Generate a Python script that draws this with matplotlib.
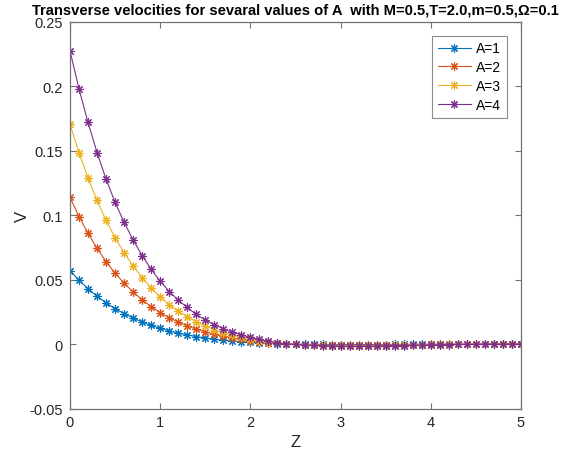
import numpy as np
import matplotlib
matplotlib.use("Agg")
import matplotlib.pyplot as plt

plt.rcParams['font.family'] = ['Liberation Sans', 'DejaVu Sans']

z = np.linspace(0, 5, 51)

v_a1 = [0.0569, 0.0495, 0.0430, 0.0372, 0.0320, 0.0275, 0.0236, 0.0202, 0.0172, 0.0145,
        0.0122, 0.0102, 0.0085, 0.0071, 0.0058, 0.0047, 0.0038, 0.0030, 0.0023, 0.0018,
        0.0013, 0.0009, 0.0006, 0.0003, 0.0001, -0.0001, -0.0002, -0.0003, -0.0003, -0.0004,
        -0.0004, -0.0004, -0.0004, -0.0004, -0.0004, -0.0004, -0.0003, -0.0003, -0.0002, -0.0002,
        -0.0002, -0.0001, -0.0001, -0.0001, -0.0001, 0.0000, 0.0000, 0.0000, 0.0000, 0.0000,
        0.0000]
v_a2 = [0.1138, 0.0990, 0.0860, 0.0743, 0.0640, 0.0550, 0.0473, 0.0404, 0.0344, 0.0291,
        0.0244, 0.0204, 0.0171, 0.0142, 0.0115, 0.0094, 0.0075, 0.0060, 0.0047, 0.0036,
        0.0026, 0.0018, 0.0011, 0.0006, 0.0002, -0.0002, -0.0004, -0.0005, -0.0007, -0.0008,
        -0.0008, -0.0009, -0.0009, -0.0008, -0.0008, -0.0007, -0.0006, -0.0006, -0.0005, -0.0004,
        -0.0003, -0.0003, -0.0002, -0.0002, -0.0001, -0.0001, -0.0001, -0.0001, 0.0000, 0.0000,
        0.0000]
v_a3 = [0.1707, 0.1485, 0.1290, 0.1115, 0.0960, 0.0825, 0.0709, 0.0606, 0.0515, 0.0436,
        0.0366, 0.0306, 0.0256, 0.0213, 0.0173, 0.0141, 0.0113, 0.0089, 0.0070, 0.0054,
        0.0039, 0.0027, 0.0017, 0.0008, 0.0002, -0.0002, -0.0005, -0.0008, -0.0010, -0.0011,
        -0.0012, -0.0013, -0.0013, -0.0012, -0.0011, -0.0011, -0.0009, -0.0008, -0.0007, -0.0006,
        -0.0005, -0.0004, -0.0003, -0.0002, -0.0002, -0.0002, -0.0001, -0.0001, -0.0001, 0.0000,
        0.0000]
v_a4 = [0.2276, 0.1980, 0.1720, 0.1486, 0.1280, 0.1100, 0.0945, 0.0808, 0.0687, 0.0581,
        0.0488, 0.0408, 0.0341, 0.0284, 0.0230, 0.0188, 0.0150, 0.0119, 0.0093, 0.0072,
        0.0052, 0.0036, 0.0022, 0.0011, 0.0003, -0.0003, -0.0007, -0.0010, -0.0013, -0.0015,
        -0.0016, -0.0017, -0.0017, -0.0016, -0.0015, -0.0014, -0.0012, -0.0011, -0.0009, -0.0008,
        -0.0006, -0.0005, -0.0004, -0.0003, -0.0002, -0.0002, -0.0001, -0.0001, -0.0001, 0.0000,
        0.0000]

labels = ['A=1', 'A=2', 'A=3', 'A=4']
series = [v_a1, v_a2, v_a3, v_a4]
colors = ['#0072BD', '#D95319', '#EDB120', '#7E2F8E']

x_ticks = [0, 1, 2, 3, 4, 5]
y_ticks = [-0.05, 0, 0.05, 0.1, 0.15, 0.2, 0.25]
y_ticklabels = ['-0.05', '0', '0.05', '0.1', '0.15', '0.2', '0.25']

fig = plt.figure(figsize=(5.73, 4.56), dpi=100)
ax = fig.add_axes([70/573, 1 - 409.5/456, (521 - 70)/573, (409.5 - 23)/456])

for lab, vals, c in zip(labels, series, colors):
    ax.plot(z, vals, color=c, lw=0.8, marker=(8, 2, 0), markersize=6,
            markeredgewidth=0.8, label=lab)

ax.set_xlim(0, 5)
ax.set_ylim(-0.05, 0.25)
ax.set_xticks(x_ticks)
ax.set_yticks(y_ticks)
ax.set_yticklabels(y_ticklabels)

axcol = '#707070'
for s in ax.spines.values():
    s.set_color(axcol)
    s.set_linewidth(0.9)
ax.tick_params(direction='in', top=True, right=True, length=4, width=0.8,
               color=axcol, labelsize=10.5, labelcolor='#262626', pad=5)

ax.set_xlabel('Z', fontsize=12, color='#262626', labelpad=3)
ax.set_ylabel('V', fontsize=12, color='#262626', labelpad=0)
ax.set_title('Transverse velocities for sevaral values of A  with M=0.5,T=2.0,m=0.5,\u03a9=0.1',
             fontsize=10.6, fontweight='bold', color='black', pad=6)

leg = ax.legend(loc='upper right', fontsize=10, frameon=True, fancybox=False,
                edgecolor=axcol, handlelength=2.4, borderaxespad=1.0,
                labelspacing=0.35, handletextpad=0.4, borderpad=0.4)
leg.get_frame().set_linewidth(0.8)

fig.savefig('out.png', dpi=100, facecolor='white')
